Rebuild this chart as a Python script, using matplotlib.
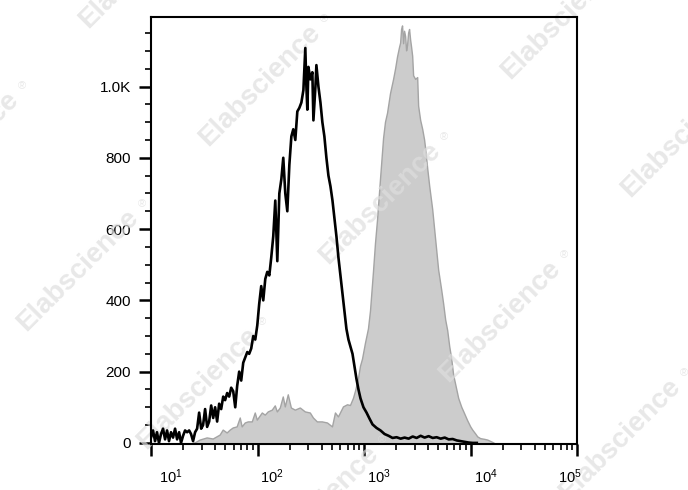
import matplotlib
matplotlib.use("Agg")
import matplotlib.pyplot as plt
import matplotlib.transforms as mtransforms
from matplotlib.ticker import LogLocator, MultipleLocator, NullFormatter
import numpy as np

plt.rcParams['font.family'] = ['Liberation Sans', 'DejaVu Sans']
plt.rcParams['mathtext.fontset'] = 'custom'
plt.rcParams['mathtext.rm'] = 'Liberation Sans'

# Data: histogram positions in decades (log10 of fluorescence) and counts
black_log = [1.000, 1.019, 1.038, 1.056, 1.075, 1.094, 1.113, 1.132, 1.151, 1.169,
             1.188, 1.207, 1.226, 1.245, 1.264, 1.282, 1.301, 1.320, 1.339, 1.358,
             1.376, 1.395, 1.414, 1.433, 1.452, 1.471, 1.489, 1.508, 1.527, 1.546,
             1.565, 1.584, 1.602, 1.621, 1.640, 1.659, 1.678, 1.696, 1.715, 1.734,
             1.753, 1.772, 1.791, 1.809, 1.828, 1.847, 1.866, 1.885, 1.904, 1.922,
             1.941, 1.960, 1.979, 1.998, 2.016, 2.035, 2.054, 2.073, 2.092, 2.111,
             2.129, 2.148, 2.167, 2.186, 2.205, 2.224, 2.242, 2.261, 2.280, 2.299,
             2.318, 2.336, 2.355, 2.374, 2.393, 2.412, 2.431, 2.449, 2.459, 2.468,
             2.478, 2.496, 2.515, 2.525, 2.544, 2.553, 2.572, 2.591, 2.609, 2.628,
             2.647, 2.666, 2.685, 2.704, 2.722, 2.741, 2.760, 2.779, 2.798, 2.816,
             2.835, 2.854, 2.873, 2.892, 2.911, 2.929, 2.948, 2.967, 2.995, 3.024,
             3.052, 3.080, 3.118, 3.155, 3.193, 3.231, 3.268, 3.306, 3.344, 3.381,
             3.419, 3.457, 3.494, 3.532, 3.569, 3.607, 3.645, 3.682, 3.720, 3.758,
             3.795, 3.833, 3.871, 3.908, 3.946, 3.984, 4.021, 4.059]
black_count = [15, 35, 5, 30, 0, 25, 40, 10, 35, 5,
               30, 15, 40, 10, 30, 0, 20, 35, 30, 35,
               25, 5, 30, 40, 85, 40, 50, 95, 45, 60,
               105, 70, 100, 60, 110, 95, 130, 120, 140, 130,
               155, 145, 100, 160, 200, 175, 225, 240, 255, 250,
               265, 300, 290, 330, 390, 440, 400, 460, 480, 470,
               520, 580, 680, 510, 700, 740, 800, 700, 650, 780,
               860, 880, 850, 930, 940, 955, 990, 1108, 1000, 935,
               1055, 1020, 1040, 905, 1000, 1060, 1000, 955, 900, 860,
               800, 750, 720, 680, 630, 580, 520, 470, 420, 370,
               320, 290, 270, 250, 215, 180, 150, 125, 100, 85,
               68, 52, 42, 35, 25, 20, 14, 16, 12, 15,
               12, 18, 14, 20, 15, 19, 14, 16, 12, 15,
               10, 11, 7, 5, 3, 1, 0, 0]

gray_log = [1.405, 1.414, 1.461, 1.527, 1.584, 1.649, 1.678, 1.715, 1.744, 1.772,
            1.809, 1.838, 1.856, 1.885, 1.913, 1.951, 1.979, 1.998, 2.045, 2.073,
            2.101, 2.139, 2.167, 2.186, 2.214, 2.242, 2.261, 2.289, 2.318, 2.355,
            2.402, 2.449, 2.496, 2.525, 2.562, 2.609, 2.657, 2.704, 2.732, 2.760,
            2.807, 2.845, 2.873, 2.901, 2.920, 2.948, 2.967, 2.986, 3.014, 3.042,
            3.061, 3.089, 3.108, 3.127, 3.155, 3.184, 3.202, 3.221, 3.249, 3.278,
            3.297, 3.315, 3.334, 3.344, 3.353, 3.362, 3.372, 3.381, 3.391, 3.400,
            3.409, 3.419, 3.428, 3.438, 3.447, 3.457, 3.466, 3.485, 3.504, 3.513,
            3.532, 3.551, 3.569, 3.579, 3.598, 3.617, 3.645, 3.673, 3.701, 3.729,
            3.748, 3.767, 3.786, 3.805, 3.824, 3.842, 3.871, 3.889, 3.918, 3.936,
            3.955, 3.974, 4.002, 4.021, 4.049, 4.068, 4.096, 4.134, 4.162, 4.191,
            4.219]
gray_count = [0, 0, 8, 14, 11, 22, 36, 28, 36, 42,
              45, 70, 45, 56, 59, 59, 84, 64, 84, 78,
              87, 92, 104, 87, 98, 129, 101, 135, 98, 92,
              98, 87, 84, 70, 59, 59, 56, 45, 84, 73,
              101, 107, 105, 125, 145, 180, 215, 235, 280, 320,
              370, 480, 560, 625, 740, 855, 900, 925, 980, 1020,
              1050, 1083, 1110, 1122, 1160, 1170, 1120, 1155, 1140, 1100,
              1115, 1150, 1160, 1130, 1110, 1085, 1030, 1020, 1025, 945,
              905, 880, 850, 825, 770, 720, 655, 570, 485, 430,
              390, 345, 315, 270, 235, 190, 150, 125, 100, 88,
              75, 62, 45, 36, 25, 17, 12, 10, 8, 4,
              0]

y_ticks = [0, 200, 400, 600, 800, 1000]
y_labels = ["0", "200", "400", "600", "800", "1.0K"]
x_ticks = [1e1, 1e2, 1e3, 1e4, 1e5]
x_labels = [r"$\mathregular{10^{1}}$", r"$\mathregular{10^{2}}$", r"$\mathregular{10^{3}}$",
            r"$\mathregular{10^{4}}$", r"$\mathregular{10^{5}}$"]

fig = plt.figure(figsize=(6.88, 4.9), dpi=100)
ax = fig.add_axes([151/688, 46/490, 426/688, 427/490])

gx = 10 ** np.array(gray_log)
bx = 10 ** np.array(black_log)

ax.fill_between(gx, 0, gray_count, facecolor="#cccccc", edgecolor="none", zorder=1)
ax.plot(gx, gray_count, color="#a4a4a4", linewidth=1.0, zorder=1.2)
ax.plot(bx, black_count, color="black", linewidth=1.9, zorder=3)

ax.set_xscale('log')
ax.set_xlim(1e1, 1e5)
ax.set_ylim(-3, 1195)

ax.set_yticks(y_ticks)
ax.set_yticklabels(y_labels, fontsize=11)
ax.yaxis.set_minor_locator(MultipleLocator(50))

ax.set_xticks(x_ticks)
ax.set_xticklabels([])
ax.xaxis.set_minor_locator(LogLocator(base=10, subs=np.arange(2, 10)))
ax.xaxis.set_minor_formatter(NullFormatter())

# x labels placed like the original, slightly right of each decade tick
shifts = [8, 2, 3, 4, -19]
xtrans = mtransforms.blended_transform_factory(ax.transData, ax.transAxes)
for xv, lab, dx in zip(x_ticks, x_labels, shifts):
    ax.text(xv, 0, lab, fontsize=10.5, ha='left', va='baseline', clip_on=False,
            transform=xtrans + mtransforms.ScaledTranslation(dx/100, -39/100, fig.dpi_scale_trans))

for spine in ax.spines.values():
    spine.set_linewidth(1.5)
    spine.set_zorder(4)

ax.tick_params(which='major', direction='out', length=8.5, width=1.8, pad=5)
ax.tick_params(which='minor', direction='out', length=4.5, width=1.2)
ax.tick_params(axis='y', which='major', pad=6)

# watermark
base = np.array([260, 85])
va = np.array([120, 118])
vb = np.array([182, -185])
for i in range(-3, 5):
    for j in range(-3, 3):
        cx, cy = base + i * va + j * vb
        if -120 < cx < 800 and -100 < cy < 600:
            ax.text(cx, 490 - cy, "Elabscience", transform=mtransforms.IdentityTransform(),
                    rotation=45, fontsize=20, fontweight='bold', color="#dedede",
                    alpha=0.7, ha='center', va='center', rotation_mode='anchor',
                    clip_on=False, zorder=2)
            ax.text(cx + 64, 490 - cy + 66, "\u00ae", transform=mtransforms.IdentityTransform(),
                    fontsize=8, color="#dedede", alpha=0.7, ha='center', va='center',
                    clip_on=False, zorder=2)

fig.savefig("out.png", dpi=100)
